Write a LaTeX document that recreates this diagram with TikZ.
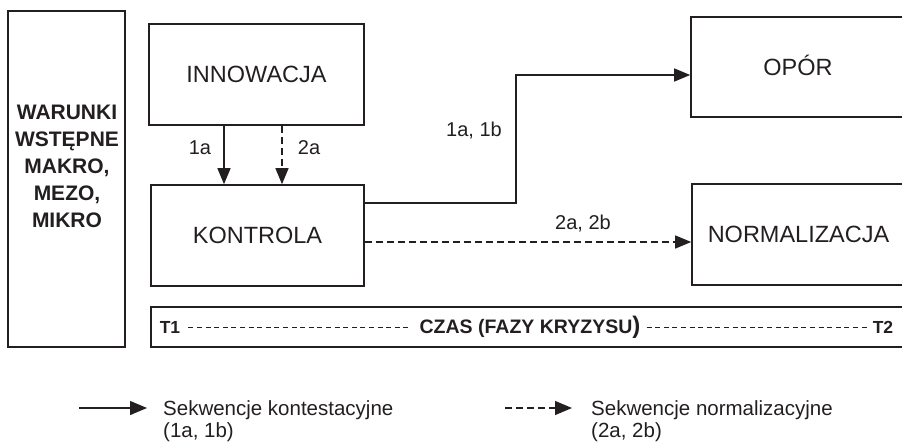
\documentclass[tikz,border=0pt]{standalone}
\usepackage{fontspec}
\setmainfont{Liberation Sans}
\usetikzlibrary{arrows.meta}
\definecolor{ink}{HTML}{231F20}
\begin{document}
\begin{tikzpicture}[x=1pt,y=-1pt,
  box/.style={draw=ink, line width=1.6pt, rectangle, inner sep=0pt, text=ink,
    font=\fontsize{23.5}{27}\selectfont, text height=16.8pt, text depth=0pt},
  boldtxt/.style={text=ink, inner sep=0pt, align=center,
    font=\fontsize{21}{27.2}\selectfont\bfseries},
  lbl/.style={text=ink, inner sep=0pt, font=\fontsize{20}{24}\selectfont,
    text height=14.3pt, text depth=0pt},
  bartxt/.style={text=ink, inner sep=0pt, text height=13pt, text depth=0pt},
  legtxt/.style={text=ink, inner sep=0pt, align=left,
    font=\fontsize{20.5}{22}\selectfont},
  conn/.style={draw=ink, line width=1.3pt, -{Triangle[length=16pt,width=13pt]}},
  dashline/.style={dash pattern=on 7pt off 4pt},
  bardash/.style={draw=ink, line width=0.8pt, dash pattern=on 5pt off 3.6pt}
]
\useasboundingbox (0,0) rectangle (902,442);

% boxes
\node[box, minimum width=117pt, minimum height=336pt] (war) at (66.5,179) {};
\node[boldtxt, anchor=north] (wartext) at (67,104.5) {WARUNKI\\WSTĘPNE\\MAKRO,\\MEZO,\\MIKRO};
\node[box, minimum width=215pt, minimum height=101pt] (innov) at (256.5,74.5) {INNOWACJA};
\node[box, minimum width=213pt, minimum height=101pt] (kontrola) at (257.5,235.5) {KONTROLA};
\node[box, minimum width=214pt, minimum height=100pt] (opor) at (798,67) {OPÓR};
\node[box, minimum width=213pt, minimum height=101pt] (normal) at (798.5,234.5) {NORMALIZACJA};
\node[box, minimum width=754pt, minimum height=40pt] (bar) at (528,327) {};

% time bar contents
\node[bartxt, font=\fontsize{17.5}{20}\selectfont\bfseries] (t1) at (170,327) {T1};
\node[bartxt, font=\fontsize{19.5}{22}\selectfont\bfseries] (czas) at (530,327) {CZAS (FAZY KRYZYSU{\fontsize{24}{24}\selectfont)}};
\node[bartxt, font=\fontsize{17.5}{20}\selectfont\bfseries] (t2) at (883,327) {T2};
\draw[bardash] ([xshift=8pt]t1.east) -- ([xshift=-8pt]czas.west);
\draw[bardash] ([xshift=6pt]czas.east) -- ([xshift=-5pt]t2.west);

% vertical arrows
\coordinate (a1) at (224,0);
\coordinate (a2) at (282,0);
\draw[conn] (innov.south -| a1) -- (kontrola.north -| a1);
\draw[conn, dashline] (innov.south -| a2) -- (kontrola.north -| a2);
\node[lbl] (l1a) at (200,147.5) {1a};
\node[lbl] (l2a) at (309,147.5) {2a};

% to OPOR
\coordinate (p1) at (516,203);
\coordinate (p2) at (516,75);
\draw[conn] (kontrola.east |- p1) -- (p1) -- (p2) -- (opor.west |- p2);
\node[lbl] (l1b) at (474,129) {1a, 1b};

% to NORMALIZACJA
\coordinate (q) at (0,242);
\draw[conn, dashline] (kontrola.east |- q) -- (normal.west |- q);
\node[lbl] (l2b) at (583,222.5) {2a, 2b};

% legend
\coordinate (lg1s) at (79,408);
\coordinate (lg1e) at (147,408);
\draw[conn, -{Triangle[length=17pt,width=14pt]}] (lg1s) -- (lg1e);
\node[legtxt, anchor=north west] (leg1) at (163,400) {Sekwencje kontestacyjne\\(1a, 1b)};
\coordinate (lg2s) at (505,408);
\coordinate (lg2e) at (572,408);
\draw[conn, dashline, -{Triangle[length=17pt,width=14pt]}] (lg2s) -- (lg2e);
\node[legtxt, anchor=north west] (leg2) at (591,400) {Sekwencje normalizacyjne\\(2a, 2b)};
\end{tikzpicture}
\end{document}
